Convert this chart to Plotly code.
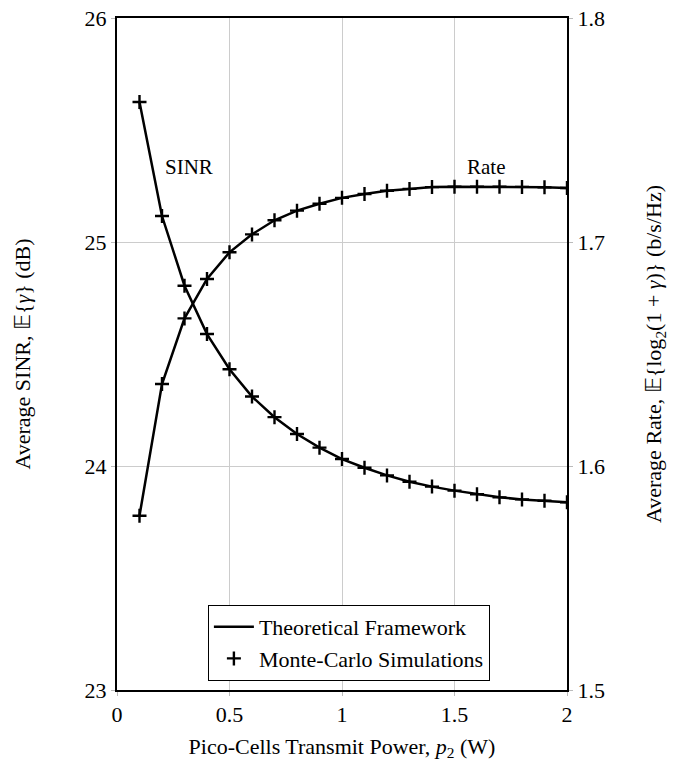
import plotly.graph_objects as go

power = [0.1, 0.2, 0.3, 0.4, 0.5, 0.6, 0.7, 0.8, 0.9, 1.0,
         1.1, 1.2, 1.3, 1.4, 1.5, 1.6, 1.7, 1.8, 1.9, 2.0]
sinr_db = [25.625, 25.116, 24.805, 24.589, 24.432, 24.310, 24.218, 24.143, 24.082, 24.031,
           23.992, 23.958, 23.930, 23.908, 23.890, 23.874, 23.860, 23.851, 23.845, 23.838]
rate = [1.5778, 1.6366, 1.6659, 1.6835, 1.6954, 1.7034, 1.7097, 1.7140, 1.7171, 1.7197,
        1.7214, 1.7229, 1.7237, 1.7245, 1.7247, 1.7247, 1.7247, 1.7246, 1.7244, 1.7241]

FONT = "serif"
fig = go.Figure()

line_style = dict(color="black", width=2.5)
marker_style = dict(symbol="cross-thin", size=10, line=dict(color="black", width=2.4), color="black")

fig.add_trace(go.Scatter(x=power, y=sinr_db, mode="lines", line=line_style,
                         name="Theoretical Framework", showlegend=True))
fig.add_trace(go.Scatter(x=power, y=sinr_db, mode="markers", marker=marker_style,
                         name="Monte-Carlo Simulations", showlegend=True))
fig.add_trace(go.Scatter(x=power, y=rate, mode="lines", line=line_style, yaxis="y2",
                         showlegend=False))
fig.add_trace(go.Scatter(x=power, y=rate, mode="markers", marker=marker_style, yaxis="y2",
                         showlegend=False))

fig.add_annotation(x=0.32, y=25.335, text="SINR", showarrow=False,
                   font=dict(family=FONT, size=21, color="black"))
fig.add_annotation(x=1.64, y=25.335, text="Rate", showarrow=False,
                   font=dict(family=FONT, size=21, color="black"))

axis_common = dict(showline=True, linecolor="black", linewidth=2, ticks="outside",
                   ticklen=4, tickcolor="#bbbbbb", showgrid=True, gridcolor="#cccccc",
                   gridwidth=1, zeroline=False, automargin=False, ticklabeloverflow="allow",
                   tickfont=dict(family=FONT, size=22, color="black"))

fig.update_layout(
    width=670, height=754,
    margin=dict(l=109, r=111, t=10, b=72),
    plot_bgcolor="white", paper_bgcolor="white",
    font=dict(family=FONT, color="black"),
    xaxis=dict(range=[0, 2], tickvals=[0, 0.5, 1, 1.5, 2], ticktext=["0", "0.5", "1", "1.5", "2"],
               mirror=True,
               title=dict(text="Pico-Cells Transmit Power, <i>p</i><sub>2</sub> (W)",
                          font=dict(family=FONT, size=22), standoff=12),
               **axis_common),
    yaxis=dict(range=[23, 26], tickvals=[23, 24, 25, 26],
               title=dict(text="Average SINR, \U0001D53C{<i>γ</i>} (dB)",
                          font=dict(family=FONT, size=22), standoff=48),
               **axis_common),
    yaxis2=dict(range=[1.5, 1.8], tickvals=[1.5, 1.6, 1.7, 1.8], ticktext=["1.5", "1.6", "1.7", "1.8"],
                overlaying="y", side="right",
                title=dict(text="Average Rate, \U0001D53C{log<sub>2</sub>(1 + <i>γ</i>)} (b/s/Hz)",
                           font=dict(family=FONT, size=22), standoff=42),
                **{**axis_common, "showgrid": False}),
    legend=dict(x=0.202, y=0.1265, xanchor="left", yanchor="top",
                bordercolor="black", borderwidth=1, bgcolor="white",
                font=dict(family=FONT, size=22), tracegroupgap=0, itemwidth=40),
)

fig.write_html("out.html")
